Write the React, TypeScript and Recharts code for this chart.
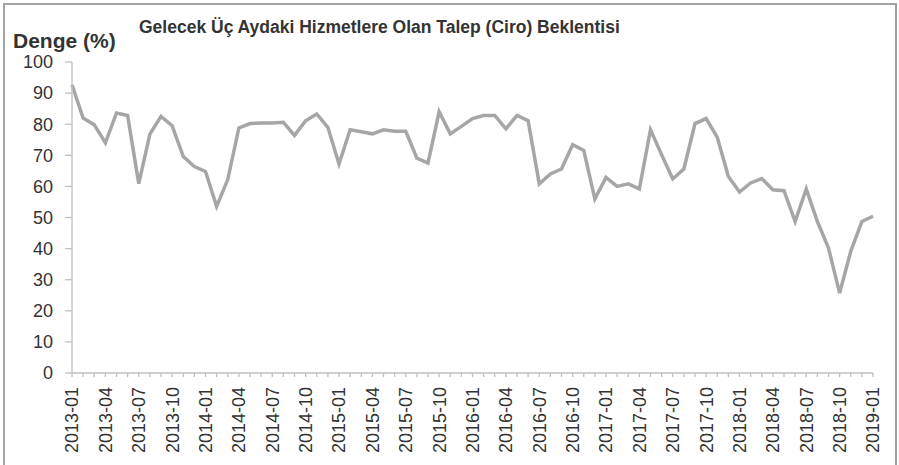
import { LineChart, Line, XAxis, YAxis } from "recharts";

const years = [2013, 2014, 2015, 2016, 2017, 2018];
const months = [
  ...years.flatMap((y) =>
    ["01", "02", "03", "04", "05", "06", "07", "08", "09", "10", "11", "12"].map((m) => `${y}-${m}`)
  ),
  "2019-01",
];

// balance values (%), 2013-01 .. 2019-01
const balance = [
  92.7, 82.0, 79.8, 74.0, 83.6, 82.8, 60.9, 76.8, 82.5, 79.5, 69.6, 66.4,
  64.8, 53.6, 62.2, 78.8, 80.2, 80.4, 80.4, 80.6, 76.4, 81.1, 83.3, 79.0,
  67.2, 78.2, 77.6, 76.9, 78.2, 77.7, 77.7, 69.1, 67.5, 84.0, 76.9, 79.3,
  81.8, 82.8, 82.8, 78.5, 82.8, 81.1, 60.8, 64.0, 65.6, 73.4, 71.6, 56.0,
  62.9, 60.0, 60.8, 59.2, 78.2, 70.2, 62.4, 65.6, 80.2, 81.8, 75.8, 63.2,
  58.2, 61.1, 62.5, 58.9, 58.6, 48.7, 59.2, 48.7, 40.2, 25.7, 39.1, 48.7,
  50.4,
];

const labeledTicks = [
  "2013-01", "2013-04", "2013-07", "2013-10",
  "2014-01", "2014-04", "2014-07", "2014-10",
  "2015-01", "2015-04", "2015-07", "2015-10",
  "2016-01", "2016-04", "2016-07", "2016-10",
  "2017-01", "2017-04", "2017-07", "2017-10",
  "2018-01", "2018-04", "2018-07", "2018-10",
  "2019-01",
];

const yTicks = [0, 10, 20, 30, 40, 50, 60, 70, 80, 90, 100];

const data = months.map((m, i) => ({ month: m, value: balance[i] }));

const FONT = "'Liberation Sans', Arial, sans-serif";
const AXIS = "#BFBFBF";
const TEXT = "#333333";

function MonthTick(props: any) {
  const { x, y, payload } = props;
  if (!labeledTicks.includes(payload.value)) return null;
  return (
    <g transform={`translate(${x},${y})`}>
      <text
        transform="rotate(-90)"
        textAnchor="end"
        dy="0.36em"
        fill={TEXT}
        fontSize={18}
        fontFamily={FONT}
      >
        {payload.value}
      </text>
    </g>
  );
}

export default function App() {
  return (
    <div style={{ position: "absolute", left: 0, top: 0, width: 899, height: 465, background: "#fff", overflow: "hidden" }}>
      <div
        style={{
          position: "absolute",
          left: 3,
          top: 3,
          width: 894,
          height: 480,
          boxSizing: "border-box",
          border: "2px solid #A3A3A3",
          borderBottom: "none",
        }}
      />
      <div
        style={{
          position: "absolute",
          left: 13,
          top: 30,
          fontFamily: FONT,
          fontWeight: "bold",
          fontSize: 21,
          color: TEXT,
          lineHeight: 1,
        }}
      >
        Denge (%)
      </div>
      <div
        style={{
          position: "absolute",
          left: 139,
          top: 19,
          fontFamily: FONT,
          fontWeight: "bold",
          fontSize: 17.5,
          color: TEXT,
          lineHeight: 1,
          whiteSpace: "nowrap",
        }}
      >
        Gelecek Üç Aydaki Hizmetlere Olan Talep (Ciro) Beklentisi
      </div>
      <LineChart width={899} height={465} data={data} margin={{ top: 62, right: 26, bottom: 0, left: 0 }}>
        <XAxis
          dataKey="month"
          interval={0}
          height={92}
          tickSize={4}
          tickMargin={10}
          tick={<MonthTick />}
          axisLine={{ stroke: AXIS, strokeWidth: 1.3 }}
          tickLine={{ stroke: AXIS, strokeWidth: 1.3 }}
        />
        <YAxis
          domain={[0, 100]}
          ticks={yTicks}
          width={72}
          tickSize={7}
          tickMargin={12}
          interval={0}
          axisLine={{ stroke: AXIS, strokeWidth: 1.3 }}
          tickLine={{ stroke: AXIS, strokeWidth: 1.3 }}
          tick={{ fill: TEXT, fontSize: 18, fontFamily: FONT }}
        />
        <Line
          type="linear"
          dataKey="value"
          stroke="#A6A6A6"
          strokeWidth={3.5}
          dot={false}
          isAnimationActive={false}
        />
      </LineChart>
    </div>
  );
}
